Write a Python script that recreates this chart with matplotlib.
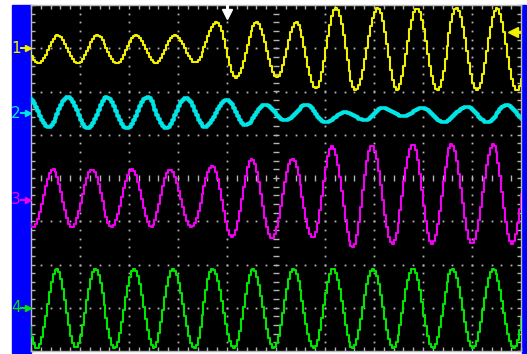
import numpy as np
import matplotlib.pyplot as plt
from matplotlib.patches import Rectangle
from matplotlib.transforms import blended_transform_factory

# channel ground offsets (divisions) and colours
labels = ['1', '2', '3', '4']
offsets = [3.0, 1.5, -0.5, -3.0]
colors = ['#f2f200', '#00e6e6', '#f000f0', '#00e600']
trig_time = 4.0     # trigger position (div)
trig_level = 0.37   # ch1 trigger level (div above ch1 ground)

# extrema of each trace: time (div), level (div)
ch1_t = [-0.24, 0.15, 0.55, 0.96, 1.35, 1.76, 2.14, 2.55, 2.94, 3.35, 3.80, 4.18,
         4.61, 5.02, 5.41, 5.82, 6.22, 6.63, 7.08, 7.47, 7.88, 8.29, 8.69, 9.10,
         9.51, 9.92, 10.33]
ch1_v = [0.30, -0.35, 0.30, -0.35, 0.30, -0.35, 0.30, -0.35, 0.30, -0.33, 0.60, -0.68,
         0.60, -0.67, 0.60, -0.93, 0.93, -0.97, 0.93, -0.97, 0.93, -0.97, 0.93, -0.97,
         0.93, -0.97, 0.93]

ch2_t = [-0.05, 0.35, 0.76, 1.16, 1.55, 1.96, 2.37, 2.76, 3.16, 3.55, 4.00, 4.37,
         4.78, 5.18, 5.63, 6.00, 6.41, 6.82, 7.18, 7.59, 8.00, 8.41, 8.90, 9.31,
         9.71, 10.14]
ch2_v = [0.35, -0.32, 0.37, -0.35, 0.37, -0.35, 0.37, -0.35, 0.35, -0.32, 0.30, -0.28,
         0.19, -0.16, 0.19, -0.21, 0.02, -0.16, 0.12, -0.07, 0.12, -0.21, 0.14, -0.21,
         0.19, -0.21]

ch3_t = [-0.37, 0.04, 0.45, 0.84, 1.24, 1.65, 2.06, 2.45, 2.84, 3.27, 3.71, 4.10,
         4.51, 4.92, 5.33, 5.76, 6.14, 6.57, 6.96, 7.37, 7.80, 8.18, 8.59, 9.00,
         9.43, 9.82, 10.22]
ch3_v = [0.70, -0.63, 0.70, -0.63, 0.70, -0.63, 0.70, -0.63, 0.70, -0.63, 0.77, -0.86,
         0.95, -0.90, 0.95, -0.88, 1.23, -1.11, 1.25, -1.02, 1.28, -1.02, 1.28, -1.02,
         1.28, -1.02, 1.28]

ch4_t = [-0.29, 0.12, 0.53, 0.92, 1.31, 1.71, 2.10, 2.51, 2.90, 3.33, 3.71, 4.14,
         4.53, 4.96, 5.35, 5.78, 6.16, 6.57, 6.98, 7.39, 7.80, 8.20, 8.61, 9.02,
         9.43, 9.86, 10.24]
ch4_v = [0.90, -0.93, 0.90, -0.93, 0.90, -0.93, 0.90, -0.93, 0.90, -0.93, 0.90, -0.93,
         0.90, -0.93, 0.90, -0.93, 0.90, -0.93, 0.90, -0.93, 0.90, -0.93, 0.90, -0.93,
         0.90, -0.93, 0.90]

traces = [(ch1_t, ch1_v), (ch2_t, ch2_v), (ch3_t, ch3_v), (ch4_t, ch4_v)]


def shape(t_ext, v_ext, t):
    # smooth half-cycle between consecutive extrema
    t_ext = np.asarray(t_ext)
    v_ext = np.asarray(v_ext)
    k = np.clip(np.searchsorted(t_ext, t) - 1, 0, len(t_ext) - 2)
    s = (t - t_ext[k]) / (t_ext[k + 1] - t_ext[k])
    w = (1 - np.cos(np.pi * s)) / 2
    return v_ext[k] + (v_ext[k + 1] - v_ext[k]) * w


W, H = 527, 354
fig = plt.figure(figsize=(W / 100, H / 100), dpi=100, facecolor='white')

# blue side bars (drawn under the axes so the channel markers stay visible)
fig.patches.append(Rectangle((12 / W, 1 / H), 19 / W, 348 / H, transform=fig.transFigure,
                             color='#0000ff', zorder=-5))
fig.patches.append(Rectangle((522 / W, 1 / H), 4 / W, 348 / H, transform=fig.transFigure,
                             color='#0000ff', zorder=-5))

ax = fig.add_axes([31 / W, 3 / H, 490 / W, 346 / H], facecolor='black')
ax.set_xlim(0, 10)
ax.set_ylim(-4, 4)
for sp in ax.spines.values():
    sp.set_color('#b8b8b8')
    sp.set_linewidth(1)

# edge ticks
gc = '#b4b4b4'
ax.set_xticks(np.arange(0, 11, 1))
ax.set_xticks(np.arange(0, 10.01, 0.2), minor=True)
ax.set_yticks(np.arange(-4, 5, 1))
ax.set_yticks(np.arange(-4, 4.01, 0.2), minor=True)
ax.tick_params(which='both', direction='in', length=3, width=1, color=gc,
               top=True, right=True, labelbottom=False, labelleft=False)

# dotted graticule
minor_x = np.arange(0.2, 10, 0.2)
minor_y = np.arange(-3.8, 4, 0.2)
for gy in [-3, -2, -1, 1, 2, 3]:
    ax.plot(minor_x, np.full_like(minor_x, gy), ls='none', marker='s', ms=1.3,
            mec='none', mfc=gc, zorder=1)
for gx in [1, 2, 3, 4, 6, 7, 8, 9]:
    ax.plot(np.full_like(minor_y, gx), minor_y, ls='none', marker='s', ms=1.3,
            mec='none', mfc=gc, zorder=1)
ax.plot(minor_x, np.zeros_like(minor_x), ls='none', marker='|', ms=4.5, mew=1,
        color=gc, zorder=1)
ax.plot(np.full_like(minor_y, 5), minor_y, ls='none', marker='_', ms=5, mew=1,
        color=gc, zorder=1)

# waveforms
t = np.arange(-0.02, 10.06, 0.04)
for (te, ve), off, c in zip(traces, offsets, colors):
    lw = 2.6 if c == colors[1] else 1.5
    ax.plot(t, shape(te, ve, t) + off, color=c, lw=lw, drawstyle='steps-mid', zorder=3)

# channel ground markers on the blue bar
tr = blended_transform_factory(ax.transAxes, ax.transData)
for lab, off, c in zip(labels, offsets, colors):
    ax.text(-0.031, off, lab, color=c, fontsize=11, ha='center', va='center',
            transform=tr, clip_on=False, zorder=6)
    ax.plot([-0.02, -0.008], [off, off], color=c, lw=1.4, transform=tr,
            clip_on=False, zorder=6)
    ax.plot([-0.007], [off], marker='>', ms=5, color=c, transform=tr,
            clip_on=False, zorder=6)

# trigger position and level
ax.plot([trig_time, trig_time], [4.0, 3.86], color='white', lw=2.2, zorder=4)
ax.plot([trig_time], [3.8], marker='v', ms=7, color='white', zorder=4)
ax.plot([9.84, 10.0], [offsets[0] + trig_level] * 2, color=colors[0], lw=2, zorder=4)
ax.plot([9.83], [offsets[0] + trig_level], marker='<', ms=7, color=colors[0], zorder=4)

fig.savefig('out.png', dpi=100, facecolor='white')
